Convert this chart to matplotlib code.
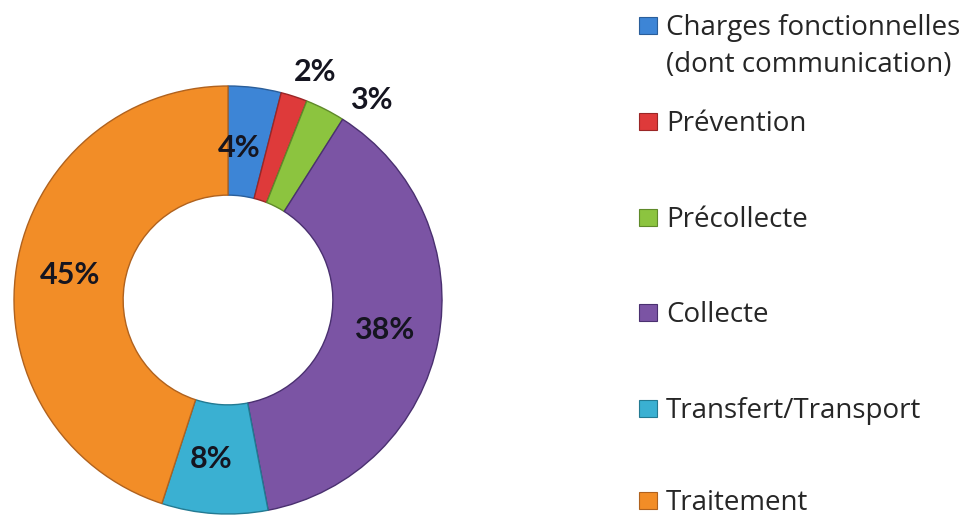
import matplotlib
matplotlib.use('Agg')
import matplotlib.pyplot as plt
from matplotlib.patches import Rectangle
import numpy as np

# data
categories = ['Charges fonctionnelles\n(dont communication)', 'Prévention', 'Précollecte',
              'Collecte', 'Transfert/Transport', 'Traitement']
values = [4, 2, 3, 38, 8, 45]
colors = ['#3D85D6', '#DE3A3A', '#8CC43F', '#7B54A4', '#3AB0D2', '#F28D27']
edges = ['#2A5E9A', '#9A2626', '#5F8A2A', '#4A3070', '#237A92', '#B0621E']

plt.rcParams['font.family'] = ['Lato', 'DejaVu Sans']

fig = plt.figure(figsize=(9.65, 5.19), dpi=100)
W, H = 965., 519.
cx, cy, R = 228., 300., 214.
ax = fig.add_axes([(cx - R) / W, (H - cy - R) / H, 2 * R / W, 2 * R / H])

wedges, _ = ax.pie(values, colors=colors, startangle=90, counterclock=False,
                   radius=1.0, wedgeprops=dict(width=0.51, linewidth=1.0))
for w, ec in zip(wedges, edges):
    w.set_edgecolor(ec)
ax.set_xlim(-1, 1)
ax.set_ylim(-1, 1)
ax.set_aspect('equal')
ax.axis('off')

# percentage labels
cum = np.cumsum([0] + values[:-1])
mid = cum + np.array(values) / 2.
lab_r = [0.71, 1.14, 1.15, 0.745, 0.745, 0.745]
lab_da = [-3.0, 3.0, 8.5, 0, 2.5, 0]
for v, m, r, da in zip(values, mid, lab_r, lab_da):
    ang = np.deg2rad(90 - m / 100. * 360 - da)
    ax.text(r * np.cos(ang), r * np.sin(ang), '{}%'.format(v), ha='center', va='center',
            fontsize=22, fontweight='bold', color='#151520', clip_on=False)

# legend drawn by hand to match the layout (baselines in pixels from top)
leg_base = [35, 131, 227, 322, 418, 510]
for c, ec, lab, yb in zip(colors, edges, categories, leg_base):
    fig.patches.append(Rectangle((639 / W, 1 - (yb - 1) / H), 18 / W, 17 / H,
                                 transform=fig.transFigure, facecolor=c, edgecolor=ec,
                                 linewidth=0.8))
    for k, line in enumerate(lab.split('\n')):
        fig.text(666 / W, 1 - (yb + 37 * k) / H, line, ha='left', va='baseline',
                 fontsize=20, family=['Open Sans', 'DejaVu Sans'], color='#262626')

fig.savefig('out.png', dpi=100)
